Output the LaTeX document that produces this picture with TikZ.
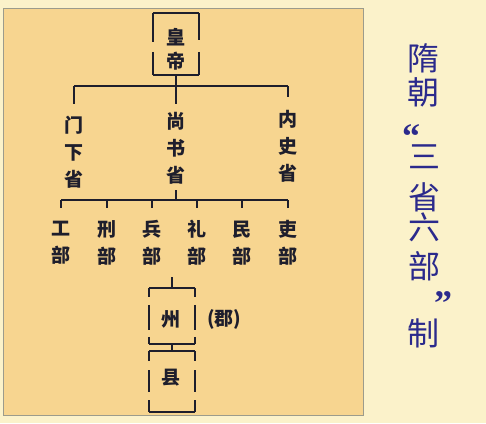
\documentclass[tikz,border=0pt]{standalone}
\usepackage{fontspec}
\newfontfamily\cjk{Noto Sans CJK SC}
\newfontfamily\qfont{Liberation Serif}
\usetikzlibrary{calc}
\definecolor{bgout}{HTML}{FBF2CA}
\definecolor{panel}{HTML}{F7D590}
\definecolor{frame}{HTML}{9C9C8C}
\definecolor{ink}{HTML}{1E1E2C}
\definecolor{ttlc}{HTML}{2B2A8C}
\begin{document}
\begin{tikzpicture}[x=1pt,y=-1pt,
  lbl/.style={font=\cjk\bfseries\fontsize{19}{27}\selectfont, text=ink, inner sep=0pt, align=center},
  ttl/.style={font=\cjk\fontsize{32}{34}\selectfont, text=ttlc, inner sep=0pt},
  quo/.style={font=\qfont\bfseries\fontsize{36}{36}\selectfont, text=ttlc, inner sep=0pt, anchor=base},
  ln/.style={draw=ink, line width=1.8pt, line cap=square},
  frm/.style={inner sep=0pt, minimum width=45pt}]

\fill[bgout] (0,0) rectangle (486,423);
\filldraw[fill=panel, draw=frame, line width=1pt] (3,8) rectangle (363,415);
\useasboundingbox (0,0) rectangle (486,423);

% emperor
\node[frm, minimum width=46pt, minimum height=62pt] (empbox) at (176,44) {};
\node[lbl, font=\cjk\bfseries\fontsize{19}{24}\selectfont] (emp) at (176,49) {皇\\帝};
\draw[ln] (empbox.north west) -- (empbox.north east);
\draw[ln] (empbox.south west) -- (empbox.south east);
\draw[ln, dash pattern=on 29pt off 10pt on 40pt] (empbox.north west) -- (empbox.south west);
\draw[ln, dash pattern=on 27pt off 12pt on 40pt] (empbox.north east) -- (empbox.south east);

% three departments
\node[lbl] (men) at (74,152) {门\\下\\省};
\node[lbl] (shang) at (176,148) {尚\\书\\省};
\node[lbl] (nei) at (288,146) {内\\史\\省};
\coordinate (hL) at (74,86);
\coordinate (hC) at (176,86);
\coordinate (hR) at (288,86);
\coordinate (menT) at (74,104);
\coordinate (shangT) at (176,104);
\coordinate (neiT) at (288,97);
\draw[ln] (hL) -- (hR);
\draw[ln] (hL) -- (menT);
\draw[ln] (hR) -- (neiT);
\draw[ln] (empbox.south) -- (shangT);

% six ministries
\coordinate (shangB) at (176,190);
\coordinate (dC) at (176,200);
\coordinate (dL) at (61,200);
\coordinate (dR) at (288,200);
\draw[ln] (shangB) -- (dC);
\draw[ln] (dL) -- (dR);
\foreach \n/\c/\x in {gong/工/61, xing/刑/107, bing/兵/152, li/礼/197, min/民/242, lib/吏/288} {
  \node[lbl] (\n) at (\x,243) {\c\\部};
  \coordinate (\n bar) at (\x,200);
  \coordinate (\n top) at (\x,208);
  \draw[ln] (\n bar) -- (\n top);
}

% zhou / xian
\coordinate (zstub) at (172,277);
\node[frm, minimum height=56pt] (zhoubox) at (172,316) {};
\node[lbl] (zhou) at (171,319) {州};
\node[lbl, anchor=west] (jun) at (207,319) {(郡)};
\draw[ln] (zstub) -- (zhoubox.north);
\draw[ln] (zhoubox.north west) -- (zhoubox.north east);
\draw[ln] (zhoubox.south west) -- (zhoubox.south east);
\draw[ln, dash pattern=on 9pt off 8pt on 25pt off 7pt on 20pt] (zhoubox.north west) -- (zhoubox.south west);
\draw[ln, dash pattern=on 9pt off 8pt on 25pt off 7pt on 20pt] (zhoubox.north east) -- (zhoubox.south east);

\node[frm, minimum height=60pt] (xianbox) at (172,381.5) {};
\node[lbl] (xian) at (171,378) {县};
\draw[ln] (zhoubox.south) -- (xianbox.north);
\draw[ln] (xianbox.north west) -- (xianbox.north east);
\draw[ln] (xianbox.south west) -- (xianbox.south east);
\draw[ln, dash pattern=on 10pt off 9pt on 22pt off 8pt on 20pt] (xianbox.north west) -- (xianbox.south west);
\draw[ln, dash pattern=on 10pt off 9pt on 22pt off 8pt on 20pt] (xianbox.north east) -- (xianbox.south east);

% title
\node[ttl] (t1) at (423,58) {隋};
\node[ttl] (t2) at (423,92) {朝};
\node[quo] (q1) at (411,148) {“};
\node[ttl] (t3) at (424,157) {三};
\node[ttl] (t4) at (424,197) {省};
\node[ttl] (t5) at (424,227) {六};
\node[ttl] (t6) at (424,266) {部};
\node[quo] (q2) at (443,315) {”};
\node[ttl] (t7) at (423,333) {制};
\end{tikzpicture}
\end{document}
